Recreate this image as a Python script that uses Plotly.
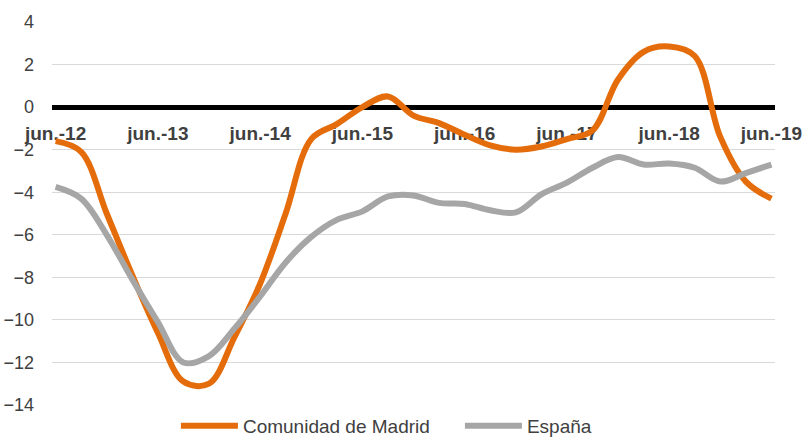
import plotly.graph_objects as go

quarters = [
    "jun.-12", "sep.-12", "dic.-12", "mar.-13",
    "jun.-13", "sep.-13", "dic.-13", "mar.-14",
    "jun.-14", "sep.-14", "dic.-14", "mar.-15",
    "jun.-15", "sep.-15", "dic.-15", "mar.-16",
    "jun.-16", "sep.-16", "dic.-16", "mar.-17",
    "jun.-17", "sep.-17", "dic.-17", "mar.-18",
    "jun.-18", "sep.-18", "dic.-18", "mar.-19",
    "jun.-19",
]
madrid = [-1.6, -2.1, -5.0, -7.9, -10.6, -12.9, -13.0, -10.8, -8.3, -5.0,
          -1.5, -0.8, 0.0, 0.5, -0.4, -0.75, -1.3, -1.8, -2.0, -1.85,
          -1.5, -1.1, 1.3, 2.6, 2.85, 2.4, -1.4, -3.5, -4.3]
espana = [-3.75, -4.3, -6.0, -8.1, -10.1, -12.0, -11.7, -10.4, -8.9, -7.3,
          -6.1, -5.3, -4.9, -4.2, -4.15, -4.5, -4.55, -4.85, -4.95, -4.1,
          -3.55, -2.85, -2.35, -2.7, -2.65, -2.85, -3.5, -3.1, -2.7]
tick_labels = ["jun.-12", "jun.-13", "jun.-14", "jun.-15",
               "jun.-16", "jun.-17", "jun.-18", "jun.-19"]
y_ticks = [4, 2, 0, -2, -4, -6, -8, -10, -12, -14]

FONT = "Liberation Sans, Arial, sans-serif"
TXT = "#404040"

fig = go.Figure()
fig.add_trace(go.Scatter(
    x=quarters, y=madrid, name="Comunidad de Madrid", mode="lines",
    line=dict(color="#E46C0A", width=6, shape="spline", smoothing=1.0),
))
fig.add_trace(go.Scatter(
    x=quarters, y=espana, name="España", mode="lines",
    line=dict(color="#A6A6A6", width=6, shape="spline", smoothing=1.0),
))

fig.update_layout(
    width=803, height=437,
    margin=dict(l=52, r=28, t=22, b=32, autoexpand=False),
    paper_bgcolor="white", plot_bgcolor="white",
    font=dict(family=FONT, color=TXT),
    showlegend=True,
    legend=dict(orientation="h", x=0.1714, xanchor="left",
                yref="container", y=11 / 437, yanchor="middle",
                font=dict(size=19, color=TXT),
                bgcolor="rgba(0,0,0,0)", itemwidth=57,
                entrywidth=212, entrywidthmode="pixels"),
    xaxis=dict(
        type="category", range=[-0.14, 28.14],
        tickmode="array", tickvals=tick_labels, ticktext=tick_labels,
        showgrid=False, zeroline=False, automargin=False,
        showline=True, linecolor="black", linewidth=4.5,
        anchor="free", position=14 / 18, layer="below traces",
        ticks="", ticklabelstandoff=7,
        tickfont=dict(size=19, color=TXT, family=FONT, weight="bold"),
    ),
    yaxis=dict(
        range=[-14, 4], tickmode="array", tickvals=y_ticks,
        showgrid=True, gridcolor="#D9D9D9", gridwidth=1,
        zeroline=False, showline=False, ticks="", automargin=False,
        ticklabelstandoff=17,
        tickfont=dict(size=18, color=TXT, family=FONT),
    ),
)

fig.write_html(
    "out.html",
    config={"displayModeBar": False},
    post_script="document.body.style.margin='0';document.body.style.overflow='hidden';",
)
